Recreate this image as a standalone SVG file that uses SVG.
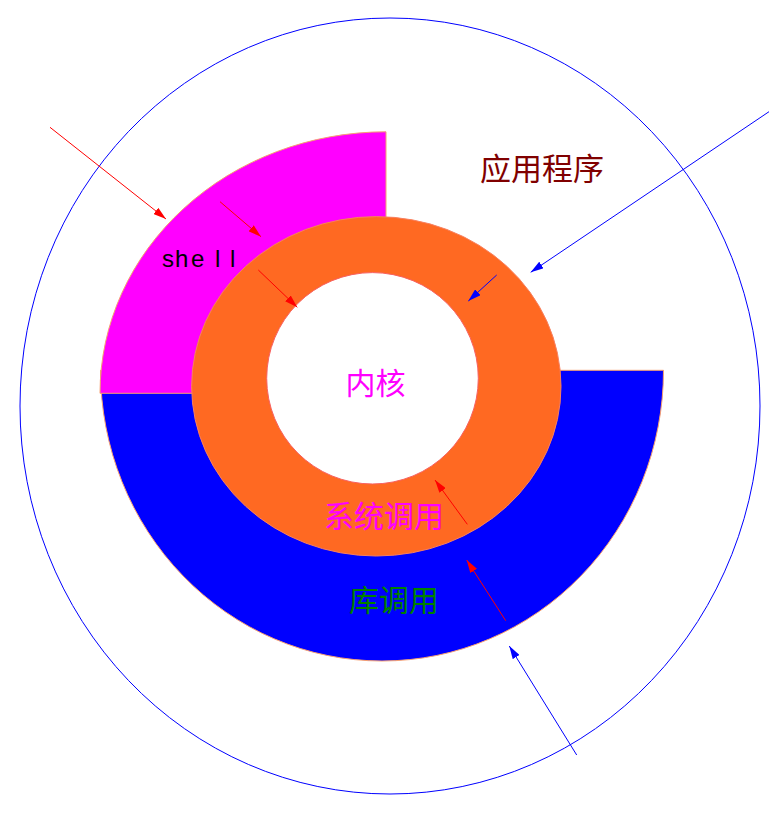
<svg xmlns="http://www.w3.org/2000/svg" width="780" height="824" viewBox="0 0 780 824">
<style>
.cjk{font-family:"Noto Sans CJK SC","Noto Sans",sans-serif;font-size:30px;text-anchor:middle}
.edge{stroke:#F7A070;stroke-width:1}
.ar{stroke-width:1;fill:none}
</style>
<defs>
<marker id="mr" viewBox="0 0 13 8" refX="13" refY="4" markerWidth="13" markerHeight="8" orient="auto" markerUnits="userSpaceOnUse"><path d="M0,0 L13,4 L0,8 Z" fill="#FF0000"/></marker>
<marker id="mb" viewBox="0 0 13 8" refX="13" refY="4" markerWidth="13" markerHeight="8" orient="auto" markerUnits="userSpaceOnUse"><path d="M0,0 L13,4 L0,8 Z" fill="#0000FF"/></marker>
</defs>
<rect width="780" height="824" fill="#FFFFFF"/>
<g id="app">
<ellipse cx="390" cy="406" rx="370" ry="388" fill="none" stroke="#0000FF" stroke-width="1"/>
<text class="cjk" x="542" y="180" fill="#800000" style="font-size:31px">应用程序</text>
</g>
<g id="lib">
<path class="edge" d="M100.5,370.3 A281.5,290.7 0 0 0 663.5,370.3 Z" fill="#0000FF"/>
<text class="cjk" x="394" y="611" fill="#008000">库调用</text>
</g>
<g id="shell">
<path class="edge" d="M386,393.3 L100,393.3 A286,261.5 0 0 1 386,131.8 Z" fill="#FF00FF"/>
<text x="162 175 191 215 230" y="267" font-family="Liberation Sans,Arial,sans-serif" font-size="24" fill="#000000">shell</text>
</g>
<g id="syscall">
<ellipse cx="376.3" cy="386.3" rx="184.7" ry="169.7" fill="#FF6922" stroke="#F88060" stroke-width="1"/>
<text class="cjk" x="384" y="527" fill="#FF00FF">系统调用</text>
</g>
<g id="kernel">
<ellipse cx="372.5" cy="378.3" rx="105.8" ry="105.7" fill="#FFFFFF" stroke="#F86060" stroke-width="1"/>
<text class="cjk" x="375.5" y="394" fill="#FF00FF">内核</text>
</g>
<g id="connectors">
<line class="ar" x1="50" y1="127.3" x2="166" y2="219" stroke="#FF0000" marker-end="url(#mr)"/>
<line class="ar" x1="220" y1="201.7" x2="261" y2="236.7" stroke="#FF0000" marker-end="url(#mr)"/>
<line class="ar" x1="258.3" y1="270" x2="297.3" y2="307.3" stroke="#FF0000" marker-end="url(#mr)"/>
<line class="ar" x1="467.3" y1="524.3" x2="435" y2="480" stroke="#FF0000" marker-end="url(#mr)"/>
<line class="ar" x1="505.7" y1="620.7" x2="466.7" y2="560" stroke="#FF0000" marker-end="url(#mr)"/>
<line class="ar" x1="769" y1="111.7" x2="530.7" y2="272.3" stroke="#0000FF" marker-end="url(#mb)"/>
<line class="ar" x1="496.7" y1="275" x2="468.3" y2="301" stroke="#0000FF" marker-end="url(#mb)"/>
<line class="ar" x1="576.7" y1="755" x2="509.3" y2="646" stroke="#0000FF" marker-end="url(#mb)"/>
</g>
</svg>
